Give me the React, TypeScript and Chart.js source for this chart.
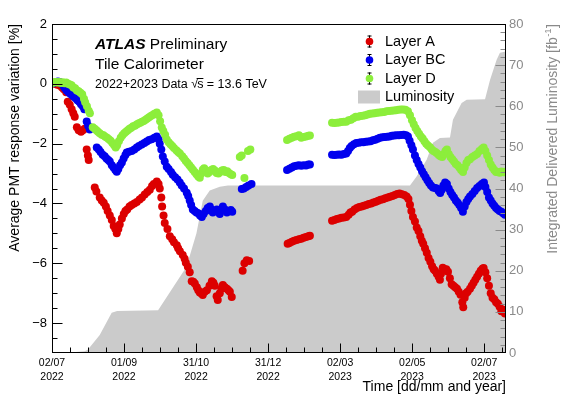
import React, { useEffect, useRef } from "react";
import { Chart, registerables } from "chart.js";

Chart.register(...registerables);

const FONT = "'Liberation Sans', Arial, Helvetica, sans-serif";
const TICK_STEP = 365 / 6; // days between labelled time ticks
const X_MAX = 383.4; // days since 02/07/2022 at right edge

const tickDates = ["02/07", "01/09", "31/10", "31/12", "02/03", "02/05", "02/07"];
const tickYears = ["2022", "2022", "2022", "2022", "2023", "2023", "2023"];
const leftTicks = [-8, -6, -4, -2, 0, 2];
const rightTicks = [0, 10, 20, 30, 40, 50, 60, 70, 80];
const legendLabels = ["Layer A", "Layer BC", "Layer D", "Luminosity"];

// [days since 02/07/2022, response variation %]
const layerA: [number, number][] = [
  [0.8, 0.02], [2.5, 0.0], [4.5, -0.03], [6.5, -0.06], [8.5, -0.12], [10, -0.18], [12, -0.28], [13.3, -0.6],
  [15, -0.7], [16.6, -0.85], [18, -0.98], [19.2, -1.1], [21, -1.45], [22.5, -1.55], [24.5, -1.6], [26, -1.55],
  [27.6, -1.5], [29.3, -2.2], [30.3, -2.4], [31, -2.55], [36.1, -3.47], [37.5, -3.6], [40.3, -3.8], [42, -3.9],
  [43.7, -3.98], [45.5, -4.1], [47, -4.25], [48.8, -4.4], [50.5, -4.55], [52.1, -4.75], [53.5, -4.85], [54.7, -5.0],
  [56, -4.85], [57.2, -4.7], [59, -4.5], [60.6, -4.35], [62, -4.25], [63.5, -4.2], [65.5, -4.1], [67.3, -4.05],
  [69.5, -4.0], [71.6, -3.95], [74, -3.87], [76, -3.8], [78.3, -3.7], [80.5, -3.62], [82.6, -3.54], [84.5, -3.42],
  [86, -3.35], [88.5, -3.27], [90, -3.35], [91, -3.5], [92.3, -3.8], [93, -4.1], [94.2, -4.4], [95.2, -4.65],
  [97.5, -4.85], [99.5, -5.1], [101.5, -5.2], [103, -5.3], [105.4, -5.4], [106.5, -5.5], [108, -5.6], [110.4, -5.72],
  [112, -5.85], [113, -5.98], [114.7, -6.12], [116.3, -6.3], [118, -6.6], [119.3, -6.62], [120.6, -6.68], [122.3, -6.8],
  [123.5, -6.9], [124.8, -6.98], [126, -7.0], [127.3, -7.06], [129, -6.95], [130.8, -6.9], [133, -6.75], [135, -6.6],
  [136.3, -6.65], [137.5, -6.75], [139, -7.1], [140, -7.23], [141.7, -7.0], [143, -6.85], [144.3, -6.73], [146, -6.8],
  [147.7, -6.85], [149, -6.9], [150.2, -6.95], [151.8, -7.13],
  [161, -6.25], [162.5, -6.0], [164.5, -5.9], [166.5, -5.92],
  [199, -5.35], [200.5, -5.32], [202.5, -5.28], [204.5, -5.25], [206.5, -5.22], [208.5, -5.2], [210.5, -5.18],
  [212.5, -5.15], [214.5, -5.12], [216.5, -5.1], [217.8, -5.08],
  [236.5, -4.58], [238.5, -4.55], [240.5, -4.52], [242.5, -4.5], [244.5, -4.48], [246.5, -4.47], [248.5, -4.45],
  [250.5, -4.38], [252, -4.3], [253.5, -4.28], [255.5, -4.2], [257.5, -4.15], [259.5, -4.12], [261.5, -4.1],
  [263.5, -4.08], [265.5, -4.05], [267.5, -4.02], [269.5, -4.0], [271.5, -3.97], [273.5, -3.94], [275.5, -3.91],
  [277.5, -3.88], [279.5, -3.86], [281.5, -3.83], [283.5, -3.8], [285.5, -3.78], [287.5, -3.75], [289.5, -3.72],
  [291.5, -3.68], [293.5, -3.67], [295.5, -3.69], [297.5, -3.72], [299.5, -3.77], [301, -3.85], [302.3, -4.04],
  [303.5, -4.25], [304.8, -4.45], [306.5, -4.6], [308, -4.8], [309.5, -4.92], [311, -5.1], [312.3, -5.25],
  [313.5, -5.35], [315, -5.5], [316.5, -5.65], [318, -5.82], [319.5, -5.95], [321, -6.1], [322.3, -6.2],
  [323.5, -6.25], [325, -6.35], [326.5, -6.45], [327.6, -6.55], [328.5, -6.35], [330, -6.15], [331.5, -6.2],
  [333, -6.2], [334.4, -6.28], [336, -6.5], [337.5, -6.7], [339, -6.75], [340.5, -6.8], [342, -6.85], [343.5, -6.95],
  [345, -7.05], [346.5, -7.3], [347.3, -7.47], [348.5, -7.15], [349.7, -7.0], [351, -6.95], [353, -6.85],
  [354.5, -6.75], [356, -6.65], [357.5, -6.55], [359, -6.45], [360.5, -6.35], [362, -6.25], [363.5, -6.18],
  [364.5, -6.16], [366, -6.3], [367.5, -6.5], [369, -6.75], [370.5, -7.0], [372, -7.15], [373.5, -7.2], [375, -7.3],
  [376.5, -7.35], [378, -7.45], [379.5, -7.6], [381, -7.55], [382.5, -7.68],
];

const layerBC: [number, number][] = [
  [1, 0.02], [3, 0.05], [5, 0.08], [6.5, 0.06], [8, 0.0], [9.9, -0.08], [11, -0.15], [12.4, -0.22], [14, -0.28],
  [15.5, -0.33], [17, -0.38], [18.5, -0.43], [20, -0.48], [21.5, -0.55], [23, -0.6], [24.5, -0.68], [26, -0.75],
  [27.3, -0.85], [29.3, -1.26], [30.5, -1.4], [31.9, -1.53], [37.8, -2.13], [39.5, -2.2], [41, -2.28], [42.8, -2.37],
  [44.5, -2.42], [46, -2.5], [47.5, -2.55], [48.8, -2.6], [50.5, -2.72], [52, -2.8], [53.5, -2.88], [54.7, -2.94],
  [56, -2.85], [57.5, -2.72], [59, -2.63], [60.5, -2.5], [62, -2.38], [63.1, -2.3], [65, -2.27], [67.3, -2.25],
  [69.5, -2.2], [71.6, -2.13], [73.5, -2.08], [75.8, -2.03], [78, -1.98], [80, -1.93], [82, -1.88], [84.2, -1.85],
  [86.5, -1.8], [88.5, -1.76], [90, -1.85], [91, -2.0], [92.3, -2.2], [93.6, -2.43], [95.2, -2.6], [96.9, -2.77],
  [98.5, -2.85], [100.5, -2.95], [102, -3.04], [104, -3.12], [106, -3.2], [107.9, -3.3], [109.5, -3.4], [111.5, -3.5],
  [113.8, -3.64], [115, -3.75], [116.3, -3.9], [117.5, -4.05], [118.9, -4.2], [120.5, -4.25], [122, -4.3],
  [123.5, -4.33], [125, -4.4], [126.5, -4.45], [128, -4.35], [129.9, -4.25], [131.5, -4.15], [133.3, -4.1],
  [134.5, -4.2], [135.8, -4.3], [137.5, -4.25], [139.2, -4.2], [140.5, -4.28], [141.7, -4.35], [143, -4.2],
  [144.3, -4.1], [146, -4.2], [147.7, -4.3], [149.5, -4.25], [151, -4.22], [152.2, -4.28],
  [160.3, -3.52], [162, -3.5], [164, -3.45], [166, -3.4], [168.5, -3.35],
  [198.5, -2.88], [200.5, -2.84], [202.5, -2.8], [204.5, -2.76], [206.5, -2.74], [208.5, -2.72], [210.5, -2.74],
  [212.5, -2.72], [214.5, -2.73], [216.5, -2.7], [217.8, -2.7],
  [236.5, -2.37], [238.5, -2.38], [240.5, -2.37], [242.5, -2.36], [244.5, -2.37], [246.5, -2.35], [248.5, -2.33],
  [250, -2.25], [251.5, -2.15], [253, -2.08], [255, -2.02], [257, -1.98], [259, -1.97], [261, -1.95], [263, -1.95],
  [265, -1.94], [267, -1.93], [269, -1.92], [271, -1.89], [273, -1.87], [275, -1.84], [277, -1.8], [279, -1.79],
  [281, -1.78], [283, -1.77], [285, -1.76], [287, -1.74], [289, -1.73], [291, -1.72], [293, -1.72], [295, -1.71],
  [297, -1.7], [299, -1.72], [300.6, -1.76], [302, -1.9], [303.5, -2.05], [304.8, -2.2], [306.5, -2.4], [308, -2.55],
  [309.5, -2.68], [311, -2.8], [312.5, -2.92], [314, -3.02], [315.5, -3.12], [317, -3.22], [318.5, -3.32],
  [320, -3.4], [321.7, -3.47], [323.5, -3.48], [325, -3.5], [326.5, -3.58], [327.8, -3.65], [329, -3.55],
  [330.5, -3.4], [332, -3.3], [333.5, -3.35], [335, -3.5], [336.5, -3.62], [338, -3.72], [339.5, -3.8], [341, -3.9],
  [342.5, -3.97], [344, -4.05], [345.5, -4.15], [347, -4.28], [348.5, -4.1], [350, -3.95], [351.5, -3.85],
  [353, -3.77], [355, -3.68], [357, -3.58], [359, -3.48], [361, -3.42], [363, -3.35], [364.8, -3.3], [366, -3.45],
  [367.5, -3.62], [369, -3.8], [370.5, -3.9], [372, -4.0], [373.5, -4.08], [375, -4.15], [376.5, -4.2], [378, -4.25],
  [379.5, -4.28], [381, -4.33], [382.5, -4.38],
];

const layerD: [number, number][] = [
  [0.3, 0.03], [1.5, 0.05], [3, 0.06], [4.5, 0.04], [6, 0.06], [7.5, 0.03], [9, 0.05], [10.5, 0.02], [12, 0.04],
  [13.5, 0.0], [15, -0.02], [16.5, -0.05], [18, -0.12], [19.5, -0.15], [21, -0.22], [22.5, -0.25], [24, -0.3],
  [25.5, -0.35], [27, -0.5], [28, -0.62], [29.5, -0.75], [31, -0.9], [32, -0.98], [34.4, -1.45], [36, -1.5],
  [37.5, -1.55], [38.8, -1.6], [40.3, -1.65], [42, -1.7], [43.5, -1.72], [45, -1.77], [46.5, -1.8], [48, -1.85],
  [49.5, -1.9], [51, -1.98], [52.5, -2.05], [53.8, -2.13], [55, -2.05], [56.5, -1.92], [58, -1.8], [59.5, -1.72],
  [61, -1.65], [62.5, -1.6], [64, -1.55], [65.5, -1.5], [67, -1.47], [68.5, -1.42], [70, -1.4], [71.5, -1.36],
  [73, -1.33], [74.5, -1.3], [76, -1.27], [77.5, -1.24], [79, -1.2], [80.5, -1.16], [82, -1.12], [83.5, -1.08],
  [85, -1.04], [86.5, -1.0], [88.5, -0.96], [90, -1.05], [91.3, -1.25], [92.7, -1.46], [94, -1.58], [95.5, -1.7],
  [96.9, -1.86], [98.5, -1.95], [100, -2.02], [101.5, -2.08], [103, -2.15], [105, -2.22], [106.5, -2.28],
  [108, -2.33], [110, -2.42], [111.5, -2.5], [113, -2.58], [114.5, -2.65], [116, -2.72], [117.5, -2.8], [119, -2.87],
  [120.5, -2.95], [122, -3.02], [123.5, -3.1], [124.8, -3.14], [126, -3.0], [127.3, -2.87], [128.5, -2.82],
  [130, -2.9], [131.5, -3.0], [133, -2.95], [134.5, -2.88], [136, -2.85], [137.5, -2.9], [139, -2.98], [140.5, -3.0],
  [142, -2.95], [143.5, -2.9], [145, -2.88], [146.5, -2.95], [148, -2.92], [149.5, -2.98], [151, -3.02], [152.2, -3.05],
  [158.6, -2.45], [160.2, -2.4], [162.5, -3.15], [165.5, -2.25], [167.5, -2.2],
  [198.5, -1.88], [200.5, -1.84], [202.5, -1.8], [204.5, -1.77], [206.5, -1.75], [208.5, -1.72], [210.5, -1.8],
  [212.5, -1.78], [214.5, -1.76], [216.5, -1.74], [217.8, -1.73],
  [236.5, -1.3], [238.5, -1.31], [240.5, -1.3], [242.5, -1.29], [244.5, -1.28], [246.5, -1.27], [248.5, -1.27],
  [250.5, -1.22], [252.5, -1.2], [254.5, -1.15], [256.5, -1.1], [258.5, -1.1], [260.5, -1.08], [262.5, -1.07],
  [264.5, -1.05], [266.5, -1.03], [268.5, -1.0], [270.5, -0.99], [272.5, -0.98], [274.5, -0.97], [276.5, -0.96],
  [278.5, -0.95], [280.5, -0.94], [282.5, -0.92], [284.5, -0.91], [286.5, -0.9], [288.5, -0.89], [290.5, -0.88],
  [292.5, -0.87], [294.5, -0.86], [296.5, -0.86], [298.5, -0.87], [300.6, -0.92], [302.3, -1.05], [304, -1.22],
  [305.5, -1.35], [307, -1.48], [308.5, -1.58], [310, -1.67], [311.5, -1.76], [313, -1.83], [314.5, -1.92],
  [316, -2.0], [317.5, -2.06], [319.2, -2.12], [320.7, -2.2], [322.2, -2.25], [323.7, -2.28], [325.1, -2.32],
  [326.6, -2.38], [328, -2.42], [329.5, -2.45], [331, -2.35], [332.3, -2.25], [333.5, -2.2], [335, -2.35],
  [336.5, -2.45], [338, -2.52], [339.5, -2.6], [341, -2.68], [342.5, -2.72], [344, -2.8], [345.5, -2.88],
  [347.1, -2.95], [348.5, -2.8], [350, -2.65], [351.5, -2.55], [353, -2.52], [355, -2.45], [357, -2.4], [359, -2.35],
  [361, -2.25], [363, -2.18], [364.5, -2.13], [366, -2.25], [367.5, -2.4], [369, -2.55], [370.5, -2.7], [372, -2.8],
  [373.5, -2.88], [375, -2.95], [376.5, -2.95], [378, -2.97], [379.5, -2.93], [381, -2.96], [382.5, -2.94],
];

// [days since 02/07/2022, integrated delivered luminosity fb^-1]
const luminosity: [number, number][] = [
  [0, 0], [15, 0.1], [27.6, 0.4], [30.2, 0.8], [40.3, 4.4], [50.4, 9.8], [55, 10.2], [89.6, 10.4], [113.6, 21],
  [122, 29.1], [127.3, 37], [133.2, 39.5], [141.7, 40.4], [148.5, 40.7], [302.3, 40.7], [307.9, 42.9], [316.4, 47],
  [321.7, 51.1], [327.6, 52.3], [336.1, 52.4], [338.6, 56.7], [345.9, 60.8], [350.2, 61.6], [365.7, 61.7],
  [369.9, 66.4], [375.5, 71.3], [378.3, 73], [383.4, 73.3],
];

const RED = "#dc0000";
const BLUE = "#0000ee";
const GREEN = "#8cee3c";
const GRAY = "#cbcbcb";
const AXIS_GRAY = "#8a8a8a";
const seriesColors = [RED, BLUE, GREEN];

const toXY = (arr: [number, number][]) => arr.map(([x, y]) => ({ x, y }));

const decorPlugin = {
  id: "decor",
  afterDraw(chart: any) {
    const { ctx, chartArea: a, scales } = chart;
    const xs = scales.x, ys = scales.y, yr = scales.y1;
    const L = Math.round(a.left) + 0.5;
    const R = Math.round(a.right) - 0.5;
    const T = Math.round(a.top) + 0.5;
    const B = Math.round(a.bottom) - 0.5;
    ctx.save();
    ctx.lineWidth = 1;

    // x ticks (major + 3 minor)
    ctx.strokeStyle = "#000";
    ctx.beginPath();
    for (let i = 1; ; i++) {
      const v = (i * TICK_STEP) / 4;
      if (v >= X_MAX) break;
      const px = Math.round(xs.getPixelForValue(v)) + 0.5;
      const len = i % 4 === 0 ? 9 : 5;
      ctx.moveTo(px, B);
      ctx.lineTo(px, B - len);
    }
    // left y ticks
    for (let k = -17; k < 4; k++) {
      const v = k / 2;
      const py = Math.round(ys.getPixelForValue(v)) + 0.5;
      const len = k % 4 === 0 ? 10 : 5;
      ctx.moveTo(L, py);
      ctx.lineTo(L + len, py);
    }
    ctx.stroke();

    // right y ticks
    ctx.strokeStyle = AXIS_GRAY;
    ctx.beginPath();
    for (let v = 2; v < 80; v += 2) {
      const py = Math.round(yr.getPixelForValue(v)) + 0.5;
      const len = v % 10 === 0 ? 10 : 5;
      ctx.moveTo(R, py);
      ctx.lineTo(R - len, py);
    }
    ctx.stroke();

    // frame
    ctx.strokeStyle = "#000";
    ctx.strokeRect(L, T, R - L, B - T);

    // ATLAS label
    ctx.fillStyle = "#000";
    ctx.textBaseline = "middle";
    ctx.textAlign = "left";
    ctx.font = `italic bold 15.5px ${FONT}`;
    ctx.fillText("ATLAS", 95, 45);
    const aw = ctx.measureText("ATLAS ").width;
    ctx.font = `15.5px ${FONT}`;
    ctx.fillText("Preliminary", 95 + aw, 45);
    ctx.fillText("Tile Calorimeter", 95, 64.5);

    ctx.font = `12.5px ${FONT}`;
    let tx = 95;
    const ty = 85;
    const p1 = "2022+2023 Data ";
    ctx.fillText(p1, tx, ty);
    tx += ctx.measureText(p1).width;
    ctx.fillText("\u221A", tx, ty);
    tx += ctx.measureText("\u221A").width - 1;
    ctx.fillText("s", tx, ty);
    const sw = ctx.measureText("s").width;
    ctx.beginPath();
    ctx.moveTo(tx - 0.5, ty - 6.5);
    ctx.lineTo(tx + sw, ty - 6.5);
    ctx.stroke();
    tx += sw;
    ctx.fillText(" = 13.6 TeV", tx, ty);

    // legend
    const rows = [41.5, 60, 78.5, 97];
    ctx.font = `14.5px ${FONT}`;
    for (let i = 0; i < 3; i++) {
      const cy = rows[i];
      const mx = 369;
      ctx.strokeStyle = "#000";
      ctx.beginPath();
      ctx.moveTo(mx + 0.5, cy - 6);
      ctx.lineTo(mx + 0.5, cy + 6);
      ctx.moveTo(mx - 1.5, cy - 5.5);
      ctx.lineTo(mx + 2.5, cy - 5.5);
      ctx.moveTo(mx - 1.5, cy + 5.5);
      ctx.lineTo(mx + 2.5, cy + 5.5);
      ctx.stroke();
      ctx.fillStyle = seriesColors[i];
      ctx.beginPath();
      ctx.arc(mx + 0.5, cy, 3.8, 0, Math.PI * 2);
      ctx.fill();
      ctx.fillStyle = "#000";
      ctx.fillText(legendLabels[i], 385, cy);
    }
    ctx.fillStyle = GRAY;
    ctx.fillRect(358, 90.5, 22, 13);
    ctx.fillStyle = "#000";
    ctx.fillText(legendLabels[3], 385, rows[3]);

    // x axis title
    ctx.font = `14px ${FONT}`;
    ctx.textAlign = "right";
    ctx.fillText("Time [dd/mm and year]", 506, 387.5);

    // left axis title
    ctx.save();
    ctx.translate(15.5, 24);
    ctx.rotate(-Math.PI / 2);
    ctx.textAlign = "right";
    ctx.fillText("Average PMT response variation [%]", 0, 0);
    ctx.restore();

    // right axis title
    ctx.save();
    ctx.translate(553, 24);
    ctx.rotate(-Math.PI / 2);
    ctx.fillStyle = AXIS_GRAY;
    ctx.textAlign = "left";
    ctx.font = `14px ${FONT}`;
    const r1 = "Integrated Delivered Luminosity [fb";
    const w1 = ctx.measureText(r1).width;
    ctx.font = `9.5px ${FONT}`;
    const w2 = ctx.measureText("-1").width;
    ctx.font = `14px ${FONT}`;
    const w3 = ctx.measureText("]").width;
    let rx = -(w1 + w2 + w3 + 1);
    ctx.fillText(r1, rx, 0);
    rx += w1 + 0.5;
    ctx.font = `9.5px ${FONT}`;
    ctx.fillText("-1", rx, -5);
    rx += w2 + 0.5;
    ctx.font = `14px ${FONT}`;
    ctx.fillText("]", rx, 0);
    ctx.restore();

    ctx.restore();
  },
};

export default function App() {
  const ref = useRef<HTMLCanvasElement>(null);
  useEffect(() => {
    if (!ref.current) return;
    const scatterDs = (label: string, data: [number, number][], color: string, order: number) => ({
      type: "scatter" as const,
      label,
      data: toXY(data),
      xAxisID: "x",
      yAxisID: "y",
      pointRadius: 4,
      pointHoverRadius: 4,
      pointBorderWidth: 0,
      pointBackgroundColor: color,
      pointBorderColor: color,
      backgroundColor: color,
      borderColor: color,
      showLine: false,
      order,
    });
    const chart = new Chart(ref.current, {
      type: "scatter",
      data: {
        datasets: [
          scatterDs("Layer A", layerA, RED, 3),
          scatterDs("Layer BC", layerBC, BLUE, 2),
          scatterDs("Layer D", layerD, GREEN, 1),
          {
            type: "line",
            label: "Luminosity",
            data: toXY(luminosity),
            xAxisID: "x",
            yAxisID: "y1",
            fill: "origin",
            backgroundColor: GRAY,
            borderColor: "rgba(0,0,0,0)",
            borderWidth: 0,
            pointRadius: 0,
            pointHoverRadius: 0,
            tension: 0,
            order: 10,
          } as any,
        ],
      },
      options: {
        responsive: false,
        devicePixelRatio: 1,
        animation: false,
        events: [],
        layout: { padding: { top: 24, left: 0, right: 0, bottom: 0 } },
        plugins: { legend: { display: false }, tooltip: { enabled: false } },
        scales: {
          x: {
            type: "linear",
            position: "bottom",
            min: 0,
            max: X_MAX,
            afterBuildTicks: (s: any) => {
              s.ticks = tickDates.map((_, i) => ({ value: i * TICK_STEP }));
            },
            afterFit: (s: any) => {
              s.height = 41;
            },
            grid: { display: false, drawTicks: false },
            border: { display: false },
            ticks: {
              autoSkip: false,
              maxRotation: 0,
              minRotation: 0,
              padding: 4,
              color: "#000",
              font: { family: FONT, size: 10.5, lineHeight: 1.25 },
              callback: (_v: any, i: number) => [tickDates[i], tickYears[i]],
            },
          },
          y: {
            type: "linear",
            position: "left",
            min: -9,
            max: 2,
            afterBuildTicks: (s: any) => {
              s.ticks = leftTicks.map((v) => ({ value: v }));
            },
            afterFit: (s: any) => {
              s.width = 52;
            },
            grid: { display: false, drawTicks: false },
            border: { display: false },
            ticks: {
              padding: 5,
              color: "#000",
              font: { family: FONT, size: 13 },
              callback: (v: any) => (v < 0 ? "\u2212" + Math.abs(v) : String(v)),
            },
          },
          y1: {
            type: "linear",
            position: "right",
            min: 0,
            max: 80,
            afterBuildTicks: (s: any) => {
              s.ticks = rightTicks.map((v) => ({ value: v }));
            },
            afterFit: (s: any) => {
              s.width = 56;
            },
            grid: { display: false, drawTicks: false },
            border: { display: false },
            ticks: {
              padding: 3,
              color: AXIS_GRAY,
              font: { family: FONT, size: 13 },
              callback: (v: any) => String(v),
            },
          },
        },
      } as any,
      plugins: [decorPlugin],
    });
    return () => chart.destroy();
  }, []);
  return (
    <canvas
      ref={ref}
      width={562}
      height={394}
      style={{ position: "fixed", left: 0, top: 0, width: "562px", height: "394px", display: "block", background: "#fff" }}
    />
  );
}
